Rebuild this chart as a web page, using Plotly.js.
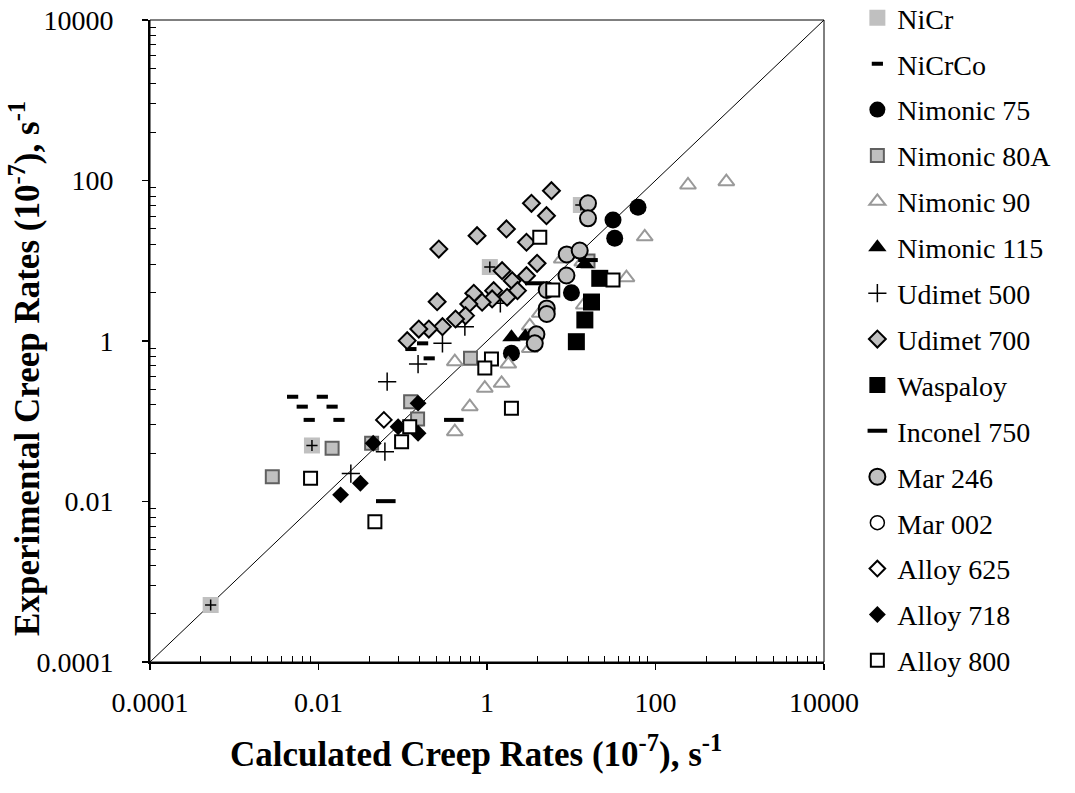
<!DOCTYPE html>
<html><head><meta charset="utf-8">
<script src="https://cdn.plot.ly/plotly-3.0.1.min.js"></script>
<style>html,body{margin:0;padding:0;background:#fff;} #chart{width:1075px;height:793px;}</style>
</head><body><div id="chart"></div>
<script>
// ---- data (calculated x, experimental y), units 1e-7 s^-1 ----
const nicrX = [1.08, 0.00836, 0.000525, 13.0];
const nicrY = [8.36, 0.0499, 0.000513, 49.5];
const nicrcoX = [0.00493, 0.0111, 0.00641, 0.0145, 0.00776, 0.0175, 0.172, 0.125, 0.206];
const nicrcoY = [0.202, 0.202, 0.152, 0.152, 0.104, 0.104, 0.935, 0.794, 0.608];
const nim75X = [62.0, 31.3, 32.8, 10.05, 1.95];
const nim75Y = [46.4, 32.2, 19.1, 4.0, 0.703];
const nim80X = [0.637, 0.124, 0.150, 0.0427, 0.0145, 0.00283, 15.8];
const nim80Y = [0.608, 0.175, 0.107, 0.0531, 0.046, 0.0204, 9.93];
const nim90X = [243, 693, 74.5, 45.2, 7.71, 13.5, 14.1, 4.23, 3.22, 3.22, 1.79, 0.415, 1.49, 0.942, 0.625, 0.415];
const nim90Y = [87.9, 96.6, 19.9, 6.15, 10.5, 9.64, 2.81, 2.21, 1.54, 0.808, 0.516, 0.552, 0.297, 0.258, 0.152, 0.0741];
const nim115X = [1.95, 2.85, 14.5];
const nim115Y = [1.11, 1.14, 9.11];
const udi500X = [1.44, 0.546, 0.296, 0.152, 0.0653, 0.0614, 0.0242];
const udi500Y = [2.95, 1.51, 0.935, 0.516, 0.311, 0.0418, 0.0223];
const udi700X = [5.82, 3.37, 5.08, 1.70, 0.762, 0.268, 2.94, 3.93, 1.51, 1.99, 2.94, 2.30, 1.20, 1.73, 1.15, 0.697, 0.875, 0.608, 0.256, 0.556, 0.423, 0.296, 0.204, 0.155, 0.113];
const udi700Y = [74.6, 52.0, 36.4, 24.9, 20.5, 14.0, 17.0, 9.29, 7.52, 5.64, 6.51, 4.24, 4.24, 3.51, 3.34, 3.93, 3.04, 2.89, 3.09, 2.07, 1.88, 1.51, 1.41, 1.41, 1.01];
const waspX = [21.8, 17.4, 14.5, 11.5];
const waspY = [6.04, 3.06, 1.83, 0.98];
const inc750X = [0.404, 3.69, 15.8, 0.0629];
const inc750Y = [0.104, 5.24, 10.2, 0.0101];
const mar246X = [15.8, 15.8, 8.84, 12.6, 8.77, 5.12, 5.12, 5.12, 3.86, 3.69];
const mar246Y = [52.0, 33.8, 11.97, 13.4, 6.55, 4.32, 2.55, 2.17, 1.21, 0.935];
const mar002X = [null];   // no visible Mar 002 points in the chart (legend entry only)
const mar002Y = [null];
const a625X = [0.0597];
const a625Y = [0.104];
const a718X = [0.152, 0.0881, 0.152, 0.0446, 0.0314, 0.0183];
const a718Y = [0.168, 0.0855, 0.0708, 0.0531, 0.0169, 0.0121];
const a800X = [4.23, 6.03, 31.3, 1.13, 0.942, 1.95, 0.121, 0.0969, 0.00805, 0.0467];
const a800Y = [19.6, 4.32, 5.75, 0.597, 0.461, 0.145, 0.0855, 0.0556, 0.0195, 0.0056];
const diagX = [0.0001, 10000];
const diagY = [0.0001, 10000];
const tickVals = [0.0001, 0.01, 1, 100, 10000];
const tickText = ['0.0001', '0.01', '1', '100', '10000'];
const xTitle = '<b>Calculated Creep Rates (10<sup>-7</sup>), s<sup>-1</sup></b>';
const yTitle = '<b>Experimental Creep Rates (10<sup>-7</sup>), s<sup>-1</sup></b>';

// minor ticks: k^2 steps inside each 2-decade major interval
const minorVals = [];
for (let e = -4; e < 4; e += 2) for (let k = 2; k <= 9; k++) minorVals.push(Math.pow(10, e) * k * k);

const F = 'Liberation Serif';
const GRAY = '#c0c0c0';

function tr(name, x, y, marker, extra) {
  return Object.assign({type: 'scatter', mode: 'markers', name: name, legendgroup: name, x: x, y: y, marker: marker, hoverinfo: 'skip'}, extra || {});
}

const data = [
  {type: 'scatter', mode: 'lines', x: diagX, y: diagY, line: {color: '#000', width: 1}, showlegend: false, hoverinfo: 'skip', legendgroup: 'diag'},
  tr('NiCr', nicrX, nicrY, {symbol: 'square', size: 16, color: GRAY, line: {width: 0}}),
  tr('NiCr', nicrX, nicrY, {symbol: 'cross-thin', size: 8, color: '#000', line: {color: '#000', width: 1.5}}, {showlegend: false}),
  tr('NiCrCo', nicrcoX, nicrcoY, {symbol: 'line-ew', size: 8, color: '#000', line: {color: '#000', width: 4}}),
  tr('Nimonic 75', nim75X, nim75Y, {symbol: 'circle', size: 17, color: '#000', line: {width: 0}}),
  tr('Nimonic 80A', nim80X, nim80Y, {symbol: 'square', size: 13, color: GRAY, line: {color: '#606060', width: 2}}),
  tr('Nimonic 90', nim90X, nim90Y, {symbol: 'triangle-up', size: 14, color: '#fff', line: {color: '#999', width: 2}}),
  tr('Nimonic 115', nim115X, nim115Y, {symbol: 'triangle-up', size: 16, color: '#000', line: {width: 0}}),
  tr('Udimet 500', udi500X, udi500Y, {symbol: 'cross-thin', size: 13, color: '#000', line: {color: '#000', width: 1.5}}),
  tr('Udimet 700', udi700X, udi700Y, {symbol: 'diamond', size: 13, color: GRAY, line: {color: '#000', width: 2}}),
  tr('Waspaloy', waspX, waspY, {symbol: 'square', size: 17, color: '#000', line: {width: 0}}),
  tr('Inconel 750', inc750X, inc750Y, {symbol: 'line-ew', size: 14, color: '#000', line: {color: '#000', width: 4}}),
  tr('Mar 246', mar246X, mar246Y, {symbol: 'circle', size: 16, color: GRAY, line: {color: '#000', width: 2}}),
  tr('Mar 002', mar002X, mar002Y, {symbol: 'circle', size: 14, color: '#fff', line: {color: '#000', width: 1.5}}),
  tr('Alloy 625', a625X, a625Y, {symbol: 'diamond', size: 12, color: '#fff', line: {color: '#000', width: 2}}),
  tr('Alloy 718', a718X, a718Y, {symbol: 'diamond', size: 13, color: '#000', line: {width: 0}}),
  tr('Alloy 800', a800X, a800Y, {symbol: 'square', size: 13, color: '#fff', line: {color: '#000', width: 2}})
];

const axisCommon = {
  type: 'log', range: [-4, 4], tickmode: 'array', tickvals: tickVals, ticktext: tickText,
  ticks: 'outside', ticklen: 6, tickwidth: 1.5, tickcolor: '#000',
  showline: true, linecolor: '#000', linewidth: 2, showgrid: false, zeroline: false,
  automargin: false,
  tickfont: {family: F, size: 28, color: '#000'},
  minor: {tickmode: 'array', tickvals: minorVals, ticks: 'inside', ticklen: 6, tickwidth: 1, tickcolor: '#000', showgrid: false}
};

const layout = {
  width: 1075, height: 793,
  margin: {l: 150, r: 250.5, t: 20, b: 131, autoexpand: false},
  paper_bgcolor: '#fff', plot_bgcolor: '#fff',
  font: {family: F, size: 28, color: '#000'},
  showlegend: true,
  xaxis: Object.assign({}, axisCommon, {ticklabelstandoff: 8}),
  yaxis: Object.assign({}, axisCommon, {ticklabelstandoff: 23}),
  legend: {
    x: 1.0495, xanchor: 'left', y: 1.042, yanchor: 'top',
    font: {family: F, size: 28, color: '#000'},
    traceorder: 'grouped', tracegroupgap: 6.5, itemwidth: 30,
    maxheight: 1, bgcolor: 'rgba(0,0,0,0)'
  },
  annotations: [
    {xref: 'paper', yref: 'paper', x: 0.483, y: -0.140, xanchor: 'center', yanchor: 'middle', showarrow: false,
     text: xTitle, font: {family: F, size: 35, color: '#000'}},
    {xref: 'paper', yref: 'paper', x: -0.185, y: 0.457, xanchor: 'center', yanchor: 'middle', showarrow: false, textangle: -90,
     text: yTitle, font: {family: F, size: 35, color: '#000'}}
  ],
  shapes: [
    {type: 'rect', xref: 'paper', yref: 'paper', x0: 0, x1: 1, y0: 0, y1: 1, line: {color: '#000', width: 1}}
  ]
};

Plotly.newPlot('chart', data, layout, {displayModeBar: false, staticPlot: true});
</script>
</body></html>
